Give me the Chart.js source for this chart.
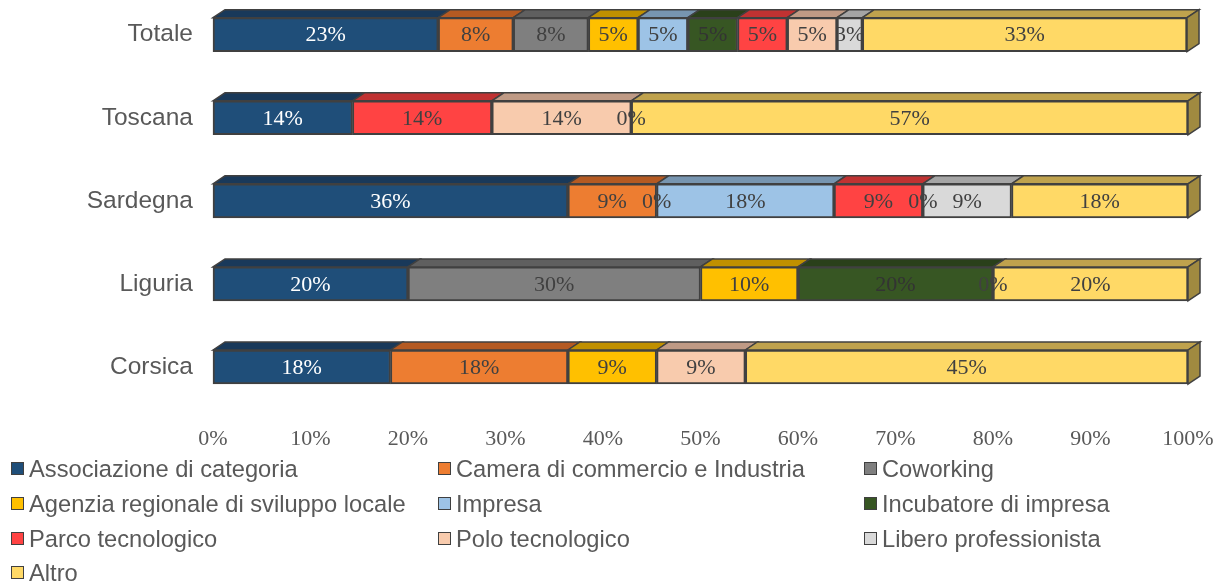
<!DOCTYPE html>
<html>
<head>
<meta charset="utf-8">
<script src="https://cdn.jsdelivr.net/npm/chart.js@4/dist/chart.umd.min.js"></script>
<style>
  body { margin: 0; background: #fff; }
  #wrap { position: relative; width: 1222px; height: 587px; }
  #myChart { position: absolute; left: 0; top: 0; }
  .lg { position: absolute; font-family: "Liberation Sans", Arial, sans-serif; font-size: 23.7px; color: #595959; white-space: nowrap; line-height: 24px; }
  .lg i { position: absolute; left: -18px; top: 5px; width: 11px; height: 11px; border: 1px solid #404040; }
</style>
</head>
<body>
<div id="wrap">
  <canvas id="myChart" width="1222" height="587"></canvas>
</div>
<script>
const categories = ["Totale", "Toscana", "Sardegna", "Liguria", "Corsica"];
const seriesNames = [
  "Associazione di categoria", "Camera di commercio e Industria", "Coworking",
  "Agenzia regionale di sviluppo locale", "Impresa", "Incubatore di impresa",
  "Parco tecnologico", "Polo tecnologico", "Libero professionista", "Altro"
];
// percentages per category (null = no bar, 0 = shown as 0%)
const associazione = [23.1, 14.3, 36.4, 20, 18.2];
const camera = [7.7, null, 9.1, null, 18.2];
const coworking = [7.7, null, null, 30, null];
const agenzia = [5.1, null, 0, 10, 9.1];
const impresa = [5.1, null, 18.2, null, null];
const incubatore = [5.1, null, null, 20, null];
const parco = [5.1, 14.3, 9.1, null, null];
const polo = [5.1, 14.3, 0, null, 9.1];
const libero = [2.6, 0, 9.1, 0, null];
const altro = [33.3, 57.1, 18.1, 20, 45.4];
const xTicks = [0, 10, 20, 30, 40, 50, 60, 70, 80, 90, 100];

const seriesValues = [associazione, camera, coworking, agenzia, impresa, incubatore, parco, polo, libero, altro];
const colors = ["#1F4E79", "#ED7D31", "#7F7F7F", "#FFC000", "#9DC3E6", "#375623", "#FF4343", "#F8CBAD", "#D9D9D9", "#FFD966"];
const topColors = ["#19395a", "#b55a22", "#5f5f5f", "#c09000", "#7795b0", "#2a401a", "#c03232", "#bf9a85", "#a5a5a5", "#bfa24d"];
const sideColors = ["#142e49", "#93491c", "#4d4d4d", "#9c7500", "#607a90", "#223415", "#9c2828", "#9b7d6c", "#868686", "#a08a40"];
const labelColors = ["#ffffff", "#404040", "#404040", "#404040", "#404040", "#333333", "#404040", "#404040", "#404040", "#404040"];

const DX = 12, DY = 8;

//3D top and side faces
const depthPlugin = {
  id: "depth",
  afterDatasetsDraw(chart) {
    const c = chart.ctx;
    c.save();
    c.lineWidth = 1.5;
    c.strokeStyle = "#404040";
    categories.forEach((cat, j) => {
      let last = null;
      chart.data.datasets.forEach((ds, i) => {
        const v = ds.data[j];
        if (v === null || v === 0) return;
        const el = chart.getDatasetMeta(i).data[j];
        const x1 = Math.min(el.base, el.x), x2 = Math.max(el.base, el.x);
        const top = el.y - el.height / 2;
        c.fillStyle = topColors[i];
        c.beginPath();
        c.moveTo(x1, top);
        c.lineTo(x1 + DX, top - DY);
        c.lineTo(x2 + DX, top - DY);
        c.lineTo(x2, top);
        c.closePath();
        c.fill();
        c.stroke();
        last = { el, i, x2, top };
      });
      if (last) {
        const bottom = last.el.y + last.el.height / 2;
        c.fillStyle = sideColors[last.i];
        c.beginPath();
        c.moveTo(last.x2, last.top);
        c.lineTo(last.x2 + DX, last.top - DY);
        c.lineTo(last.x2 + DX, bottom - DY);
        c.lineTo(last.x2, bottom);
        c.closePath();
        c.fill();
        c.stroke();
      }
    });
    c.restore();
  }
};

const labelPlugin = {
  id: "valueLabels",
  afterDraw(chart) {
    const c = chart.ctx;
    c.save();
    c.font = "22px 'Liberation Serif', 'Times New Roman', serif";
    c.textAlign = "center";
    c.textBaseline = "middle";
    chart.data.datasets.forEach((ds, i) => {
      const meta = chart.getDatasetMeta(i);
      ds.data.forEach((v, j) => {
        if (v === null) return;
        const el = meta.data[j];
        c.fillStyle = labelColors[i];
        c.fillText(Math.round(v) + "%", (el.x + el.base) / 2, el.y + 1);
      });
    });
    c.restore();
  }
};

const data = {
  labels: categories,
  datasets: seriesNames.map((name, i) => ({
    label: name,
    data: seriesValues[i],
    backgroundColor: colors[i],
    borderColor: "#404040",
    borderWidth: 2,
    borderSkipped: false,
    barThickness: 34,
    clip: false
  }))
};

const config = {
  type: "bar",
  data: data,
  options: {
    indexAxis: "y",
    responsive: false,
    animation: false,
    layout: { padding: { top: 33, right: 34, bottom: 140, left: 0 } },
    plugins: { legend: { display: false }, tooltip: { enabled: false } },
    scales: {
      x: {
        stacked: true,
        min: 0,
        max: 100,
        afterBuildTicks: (scale) => { scale.ticks = xTicks.map(v => ({ value: v })); },
        grid: { display: false, drawTicks: false },
        border: { display: false },
        ticks: {
          padding: 59,
          color: "#595959",
          font: { family: "'Liberation Serif', 'Times New Roman', serif", size: 22 },
          callback: (value) => value + "%"
        },
        afterFit: (scale) => {
          scale.height = 80;
          scale.paddingLeft = 0;
          scale.paddingRight = 0;
        }
      },
      y: {
        stacked: true,
        offset: false,
        grid: { display: false, drawTicks: false },
        border: { display: false },
        ticks: {
          padding: 20,
          color: "#595959",
          font: { family: "'Liberation Sans', Arial, sans-serif", size: 24.5 }
        },
        afterFit: (scale) => { scale.width = 213; }
      }
    }
  },
  plugins: [depthPlugin, labelPlugin]
};

const myChart = new Chart(document.getElementById("myChart").getContext("2d"), config);

// legend: 3 columns
const wrap = document.getElementById("wrap");
const colX = [29, 456, 882];
const rowY = [457, 492, 527, 561];
seriesNames.forEach((name, i) => {
  const d = document.createElement("div");
  d.className = "lg";
  d.style.left = colX[i % 3] + "px";
  d.style.top = rowY[Math.floor(i / 3)] + "px";
  const sq = document.createElement("i");
  sq.style.background = colors[i];
  d.appendChild(sq);
  d.appendChild(document.createTextNode(name));
  wrap.appendChild(d);
});
</script>
</body>
</html>
